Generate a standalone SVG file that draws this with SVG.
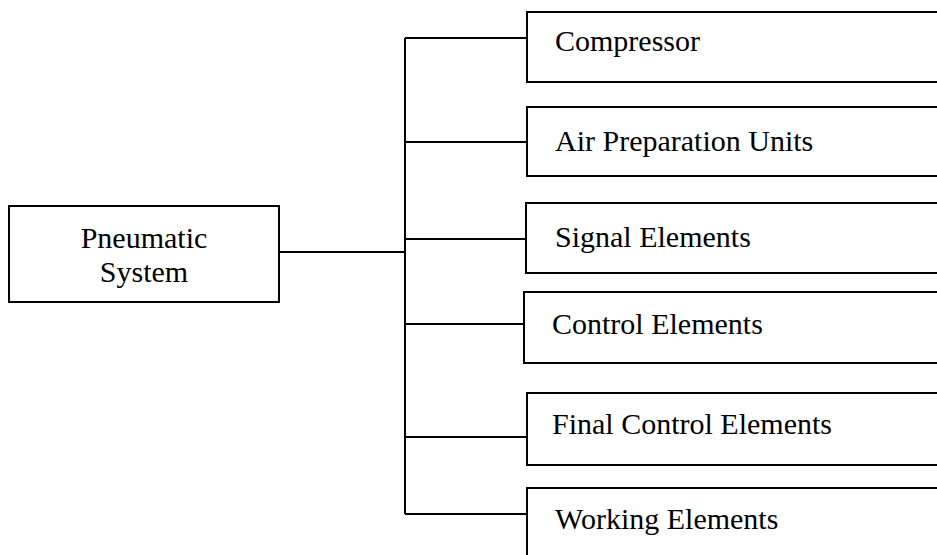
<svg xmlns="http://www.w3.org/2000/svg" width="937" height="555" viewBox="0 0 937 555">
<style>
.box{fill:#fff;stroke:#000;stroke-width:2}
.ln{fill:none;stroke:#000;stroke-width:2}
text{font-family:"Liberation Serif","Times New Roman",serif;font-size:30px;fill:#000}
</style>
<rect width="937" height="555" fill="#fff"/>
<g id="connectors">
<path class="ln" d="M279,252 H405 M405,38 V514 M405,38 H527 M405,142 H527 M405,239 H526 M405,324 H524 M405,437 H527 M405,514 H527"/>
</g>
<g id="pneumatic-system">
<rect class="box" x="9" y="206" width="270" height="96"/>
<text x="144" y="248" text-anchor="middle">Pneumatic</text>
<text x="144" y="282" text-anchor="middle">System</text>
</g>
<g id="compressor">
<rect class="box" x="527" y="12" width="420" height="70"/>
<text x="555" y="51">Compressor</text>
</g>
<g id="air-preparation-units">
<rect class="box" x="527" y="107" width="420" height="69"/>
<text x="555" y="151">Air Preparation Units</text>
</g>
<g id="signal-elements">
<rect class="box" x="526" y="203" width="420" height="70"/>
<text x="555" y="247">Signal Elements</text>
</g>
<g id="control-elements">
<rect class="box" x="524" y="292" width="420" height="71"/>
<text x="552" y="334">Control Elements</text>
</g>
<g id="final-control-elements">
<rect class="box" x="527" y="393" width="420" height="72"/>
<text x="552" y="434">Final Control Elements</text>
</g>
<g id="working-elements">
<rect class="box" x="527" y="488" width="420" height="90"/>
<text x="555" y="529">Working Elements</text>
</g>
</svg>
